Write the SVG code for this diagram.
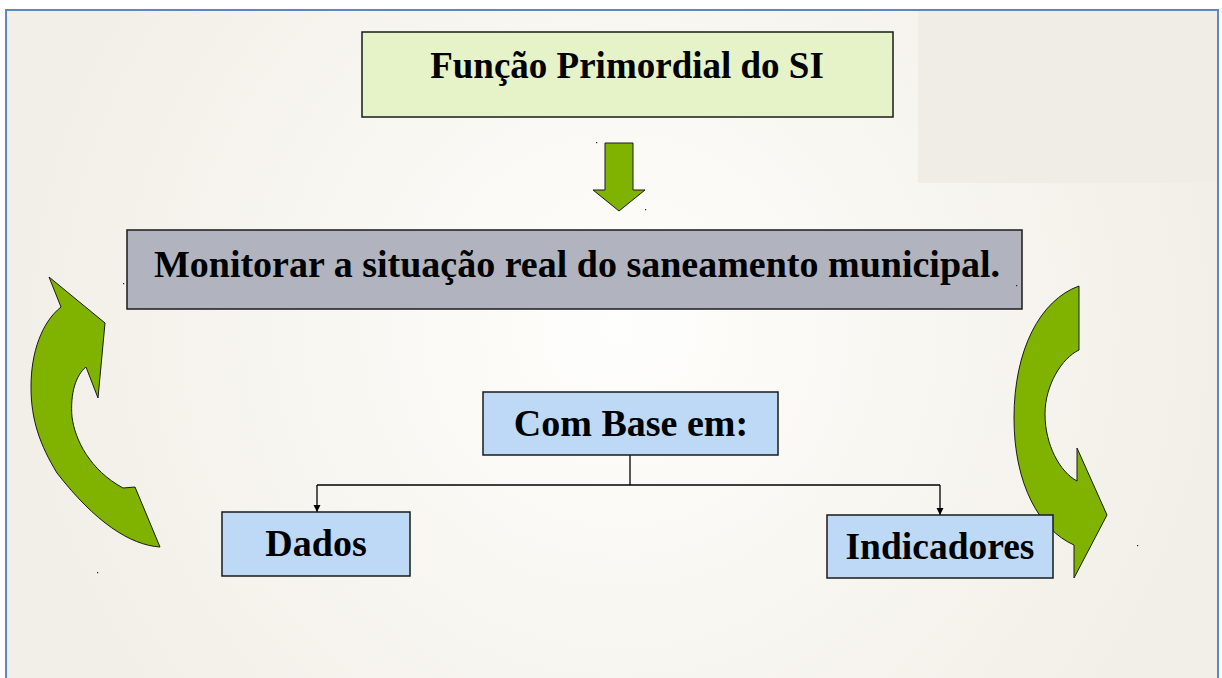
<svg xmlns="http://www.w3.org/2000/svg" width="1222" height="678" viewBox="0 0 1222 678">
<style>
.box{stroke:#1a1a1a;stroke-width:1.5}
.t{font-family:"Liberation Serif",serif;font-weight:bold;fill:#000;text-anchor:middle}
.green{fill:#80b300;stroke:#1a1a1a;stroke-width:1}
.conn{stroke:#000;stroke-width:1.3;fill:none}
.dot{fill:#222}
</style>
<defs>
<radialGradient id="bg" cx="620" cy="330" r="600" gradientUnits="userSpaceOnUse">
<stop offset="0" stop-color="#fefefc"/>
<stop offset="0.6" stop-color="#f7f5ef"/>
<stop offset="1" stop-color="#f1efe8"/>
</radialGradient>
<marker id="ah" viewBox="0 0 10 10" refX="10" refY="5" markerWidth="7" markerHeight="8" orient="auto" markerUnits="userSpaceOnUse">
<path d="M0,0 L10,5 L0,10 Z" fill="#000"/>
</marker>
</defs>
<rect x="0" y="0" width="1222" height="678" fill="#ffffff"/>
<rect x="6" y="10" width="1212" height="670" fill="url(#bg)"/>
<rect x="918" y="11" width="299" height="172" fill="#efede6"/>
<rect x="6" y="10" width="1212" height="672" fill="none" stroke="#5b87c5" stroke-width="2"/>

<g id="connectors">
<path class="conn" d="M630,455 V485"/>
<path class="conn" d="M317,485 H940"/>
<path class="conn" d="M317,485 V512" marker-end="url(#ah)"/>
<path class="conn" d="M940,485 V515" marker-end="url(#ah)"/>
</g>

<g id="down-arrow">
<path class="green" d="M605,143 H633 V190 H645 L619,211 L593,190 H605 Z"/>
</g>

<g id="left-arrow">
<path class="green" d="M49,277 L105,323 L98,398 L86,367 C76,375 70,393 72,417 C75,440 90,470 123,488 L135,487 L160,547 C130,545 95,522 57,473 C40,445 31,420 31,387 C31,352 42,322 61,307 Z"/>
</g>

<g id="right-arrow">
<path class="green" d="M1079,286 L1079,350 C1062,358 1045,385 1045,414 C1045,445 1060,472 1077,481 L1077,448 L1107,515 L1074,578 L1074,545 C1040,530 1014,485 1014,418 C1014,350 1040,300 1079,286 Z"/>
</g>

<g id="funcao">
<rect class="box" x="362" y="32" width="531" height="85" fill="#e6f2c7"/>
<text class="t" x="627" y="78" font-size="37">Função Primordial do SI</text>
</g>

<g id="monitorar">
<rect class="box" x="127" y="230" width="895" height="79" fill="#b1b4be"/>
<text class="t" x="577" y="277" font-size="38">Monitorar a situação real do saneamento municipal.</text>
</g>

<g id="combase">
<rect class="box" x="483" y="392" width="295" height="63" fill="#bdd9f6"/>
<text class="t" x="631" y="436" font-size="38">Com Base em:</text>
</g>

<g id="dados">
<rect class="box" x="222" y="512" width="188" height="64" fill="#bdd9f6"/>
<text class="t" x="316" y="556" font-size="38">Dados</text>
</g>

<g id="indicadores">
<rect class="box" x="827" y="515" width="226" height="63" fill="#bdd9f6"/>
<text class="t" x="940" y="559" font-size="37.5">Indicadores</text>
</g>

<g id="specks">
<rect class="dot" x="123" y="283" width="1.2" height="1.2"/>
<rect class="dot" x="97" y="572" width="1.2" height="1.2"/>
<rect class="dot" x="596" y="142" width="1.2" height="1.2"/>
<rect class="dot" x="645" y="209" width="1.2" height="1.2"/>
<rect class="dot" x="1016" y="285" width="1.2" height="1.2"/>
<rect class="dot" x="1137" y="545" width="1.2" height="1.2"/>
</g>
</svg>
